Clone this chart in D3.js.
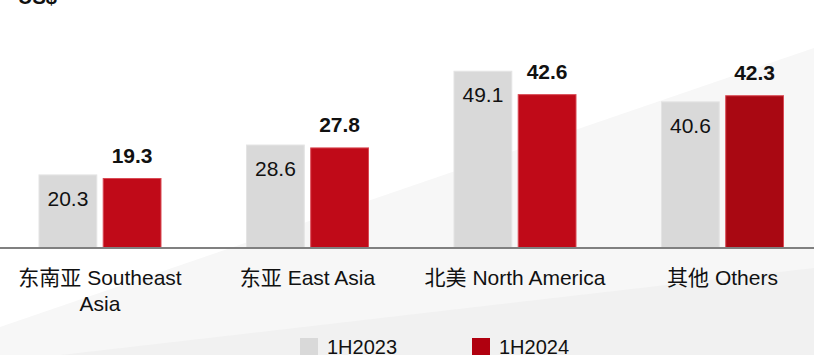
<!DOCTYPE html>
<html>
<head>
<meta charset="utf-8">
<script src="https://cdn.jsdelivr.net/npm/d3@7"></script>
<style>
  html, body { margin: 0; padding: 0; background: #fff; }
  svg { display: block; }
  text { font-family: "Liberation Sans", Arial, "Noto Sans CJK SC", sans-serif; fill: #111; }
</style>
</head>
<body>
<svg id="chart" width="814" height="355"></svg>
<script>
// Regions (bilingual labels, split into lines)
const categories = ["东南亚 Southeast Asia", "东亚 East Asia", "北美 North America", "其他 Others"];
const categoryLines = [["东南亚 Southeast", "Asia"], ["东亚 East Asia"], ["北美 North America"], ["其他 Others"]];
const seriesNames = ["1H2023", "1H2024"];
const values2023 = [20.3, 28.6, 49.1, 40.6];
const values2024 = [19.3, 27.8, 42.6, 42.3];
const unitLabel = "US$";

const W = 814, H = 355;
const baseline = 248;
const svg = d3.select("#chart");

// soft diagonal background bands
const bg = svg.append("g");
bg.append("path")
  .attr("d", `M0,327 L814,48 L814,${H} L0,${H} Z`)
  .attr("fill", "#f7f7f7");
bg.append("path")
  .attr("d", `M0,362 L814,268 L814,${H} L0,${H} Z`)
  .attr("fill", "#f1f1f1");

// scales
const x0 = d3.scalePoint().domain(categories).range([100, 722.5]);
const x1 = d3.scaleBand().domain(seriesNames).range([-61, 61]).paddingInner(0.1);
const y = d3.scaleLinear().domain([0, 50]).range([baseline, baseline - 180]);

const grayFill = "#d9d9d9";
const redFills = ["#c00a18", "#c00a18", "#c00a18", "#a90812"];

const data = categories.map((c, i) => ({ c, i, v23: values2023[i], v24: values2024[i] }));

const groups = svg.append("g").selectAll("g").data(data).join("g")
  .attr("transform", d => `translate(${x0(d.c)},0)`);

// 1H2023 bars
groups.append("rect")
  .attr("x", x1("1H2023"))
  .attr("width", x1.bandwidth())
  .attr("y", d => y(d.v23))
  .attr("height", d => y(0) - y(d.v23))
  .attr("fill", grayFill)
  .attr("stroke", "#e4e4e4").attr("stroke-width", 1);

// 1H2024 bars
groups.append("rect")
  .attr("x", x1("1H2024"))
  .attr("width", x1.bandwidth())
  .attr("y", d => y(d.v24))
  .attr("height", d => y(0) - y(d.v24))
  .attr("fill", d => redFills[d.i])
  .attr("stroke", "#d94a55").attr("stroke-width", 1);

// value labels: inside gray bars, bold above red bars
groups.append("text")
  .attr("x", x1("1H2023") + x1.bandwidth() / 2)
  .attr("y", d => y(d.v23) + 31)
  .attr("text-anchor", "middle")
  .attr("font-size", 21)
  .text(d => d.v23.toFixed(1));

groups.append("text")
  .attr("x", x1("1H2024") + x1.bandwidth() / 2)
  .attr("y", d => y(d.v24) - 16)
  .attr("text-anchor", "middle")
  .attr("font-size", 21)
  .attr("font-weight", "bold")
  .text(d => d.v24.toFixed(1));

// baseline axis
const xAxis = d3.axisBottom(x0).tickSize(0).tickFormat(() => "");
const axisG = svg.append("g").attr("transform", `translate(0,${baseline})`).call(xAxis);
axisG.select(".domain").remove();
axisG.append("line").attr("x1", 0).attr("x2", W)
  .attr("stroke", "#808080").attr("stroke-width", 2);

// category labels
groups.append("text")
  .attr("text-anchor", "middle")
  .attr("font-size", 21)
  .selectAll("tspan").data(d => categoryLines[d.i]).join("tspan")
  .attr("x", 0)
  .attr("y", (t, j) => 285 + j * 26)
  .text(t => t);

// unit label
svg.append("text")
  .attr("x", 18).attr("y", 4)
  .attr("font-size", 20).attr("font-weight", "bold")
  .text(unitLabel);

// legend
const legendX = [300, 472];
const legendColors = [grayFill, "#b0000f"];
const legend = svg.append("g").selectAll("g").data(seriesNames).join("g")
  .attr("transform", (d, i) => `translate(${legendX[i]},338)`);
legend.append("rect").attr("width", 18).attr("height", 18)
  .attr("fill", (d, i) => legendColors[i]);
legend.append("text").attr("x", 27).attr("y", 16)
  .attr("font-size", 20)
  .text(d => d);
</script>
</body>
</html>
